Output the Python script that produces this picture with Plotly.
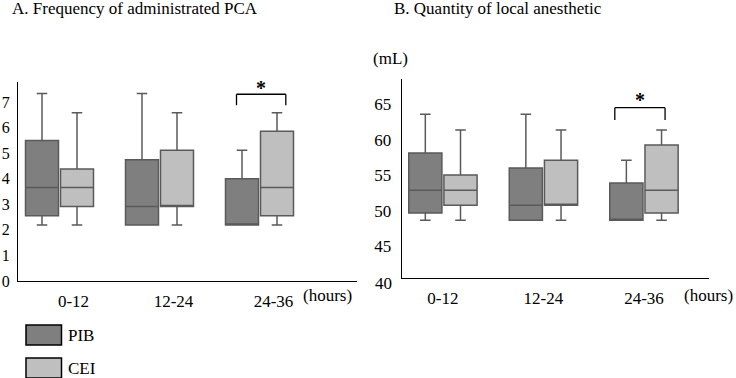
import plotly.graph_objects as go

W, H = 736, 378

categories = ["0-12", "12-24", "24-36"]
group_names = ["PIB", "CEI"]

# Panel A: frequency of administrated PCA
pca_pib_lower = [2.19, 2.19, 2.19]
pca_pib_q1 = [2.55, 2.19, 2.19]
pca_pib_median = [3.65, 2.91, 2.19]
pca_pib_q3 = [5.49, 4.74, 4.00]
pca_pib_upper = [7.33, 7.33, 5.11]

pca_cei_lower = [2.19, 2.19, 2.19]
pca_cei_q1 = [2.91, 2.91, 2.55]
pca_cei_median = [3.65, 2.91, 3.65]
pca_cei_q3 = [4.38, 5.11, 5.85]
pca_cei_upper = [6.58, 6.58, 6.58]

# Panel B: quantity of local anesthetic (mL)
la_pib_lower = [48.67, 48.67, 48.67]
la_pib_q1 = [49.69, 48.67, 48.67]
la_pib_median = [52.88, 50.77, 48.67]
la_pib_q3 = [58.12, 56.01, 53.90]
la_pib_upper = [63.55, 63.55, 57.09]

la_cei_lower = [48.67, 48.67, 48.67]
la_cei_q1 = [50.77, 50.77, 49.69]
la_cei_median = [52.88, 50.77, 52.88]
la_cei_q3 = [55.03, 57.09, 59.24]
la_cei_upper = [61.35, 61.35, 61.35]

pca_ticks = [0, 1, 2, 3, 4, 5, 6, 7]
la_ticks = [45, 50, 55, 60, 65]
la_bottom_label = 40

PIB_FILL = "#7f7f7f"
CEI_FILL = "#bfbfbf"
LINE = "#5a5a5a"
FONT = "Liberation Serif"

BOX_OFFSET = 0.175
BOX_WIDTH = 0.33
cat_index = list(range(len(categories)))


def px(x):
    return x / W


def py(y):
    return 1 - y / H


fig = go.Figure()


def add_box(name, fill, sign, q1, med, q3, lo, hi, xa, ya):
    fig.add_trace(go.Box(
        name=name, x=[i + sign * BOX_OFFSET for i in cat_index],
        q1=q1, median=med, q3=q3, lowerfence=lo, upperfence=hi, boxpoints=False,
        width=BOX_WIDTH, fillcolor=fill, line=dict(color=LINE, width=1.5),
        whiskerwidth=0.32, xaxis=xa, yaxis=ya, showlegend=False, hoverinfo="skip",
    ))


add_box("PIB", PIB_FILL, -1, pca_pib_q1, pca_pib_median, pca_pib_q3, pca_pib_lower, pca_pib_upper, "x", "y")
add_box("CEI", CEI_FILL, 1, pca_cei_q1, pca_cei_median, pca_cei_q3, pca_cei_lower, pca_cei_upper, "x", "y")
add_box("PIB", PIB_FILL, -1, la_pib_q1, la_pib_median, la_pib_q3, la_pib_lower, la_pib_upper, "x2", "y2")
add_box("CEI", CEI_FILL, 1, la_cei_q1, la_cei_median, la_cei_q3, la_cei_lower, la_cei_upper, "x2", "y2")

tickfont = dict(family=FONT, size=17, color="black")
axis_common = dict(showline=True, linecolor="black", linewidth=1.3, showgrid=False,
                   zeroline=False, ticks="", fixedrange=True, automargin=False)

fig.update_layout(
    width=W, height=H, margin=dict(l=0, r=0, t=0, b=0, autoexpand=False),
    paper_bgcolor="white", plot_bgcolor="white",
    boxmode="overlay",
    xaxis=dict(domain=[px(18), px(357)], anchor="y", range=[-0.415, 2.975],
               tickvals=cat_index, ticktext=categories, tickfont=tickfont,
               ticklabelshift=14, ticklabelstandoff=4, **axis_common),
    yaxis=dict(domain=[py(281), py(81.7)], anchor="x", range=[0, 7.79],
               tickvals=pca_ticks, ticklabelstandoff=4,
               tickfont=dict(family=FONT, size=16, color="black"), **axis_common),
    xaxis2=dict(domain=[px(401.7), px(709)], anchor="y2", range=[-0.41, 2.647],
                tickvals=cat_index, ticktext=categories, tickfont=tickfont,
                ticklabelstandoff=4, **axis_common),
    yaxis2=dict(domain=[py(278.3), py(79.3)], anchor="x2", range=[40.52, 68.47],
                tickvals=la_ticks, ticklabelstandoff=6, tickfont=tickfont, **axis_common),
)

txt = dict(family=FONT, size=17, color="black")
annotations = [
    dict(text="A. Frequency of administrated PCA", x=px(10), y=py(8), xref="paper", yref="paper",
         xanchor="left", yanchor="middle", showarrow=False, font=txt),
    dict(text="B. Quantity of local anesthetic", x=px(391.7), y=py(8), xref="paper", yref="paper",
         xanchor="left", yanchor="middle", showarrow=False, font=txt),
    dict(text="(mL)", x=px(371), y=py(58), xref="paper", yref="paper",
         xanchor="left", yanchor="middle", showarrow=False, font=txt),
    dict(text="(hours)", x=px(327.5), y=py(295), xref="paper", yref="paper",
         xanchor="center", yanchor="middle", showarrow=False, font=txt),
    dict(text="(hours)", x=px(708), y=py(295), xref="paper", yref="paper",
         xanchor="center", yanchor="middle", showarrow=False, font=txt),
    dict(text=str(la_bottom_label), x=px(394), y=py(283), xref="paper", yref="paper",
         xanchor="right", yanchor="middle", showarrow=False, font=txt),
    dict(text="<b>*</b>", x=2.01, y=7.55, xref="x", yref="y",
         xanchor="center", yanchor="middle", showarrow=False, font=dict(family=FONT, size=20, color="black")),
    dict(text="<b>*</b>", x=1.96, y=65.5, xref="x2", yref="y2",
         xanchor="center", yanchor="middle", showarrow=False, font=dict(family=FONT, size=20, color="black")),
]

# legend drawn manually
shapes = []
for i, (name, fill) in enumerate(zip(group_names, [PIB_FILL, CEI_FILL])):
    top = 325 + i * 33
    shapes.append(dict(type="rect", xref="paper", yref="paper", x0=px(26), x1=px(61.5),
                       y0=py(top + 20), y1=py(top), fillcolor=fill,
                       line=dict(color="black", width=1.5)))
    annotations.append(dict(text=name, x=px(66), y=py(top + 10), xref="paper", yref="paper",
                            xanchor="left", yanchor="middle", showarrow=False, font=txt))


# significance brackets
def bracket(xa, ya, x0, x1, ytop, ybot):
    line = dict(color="black", width=1.3)
    shapes.append(dict(type="line", xref=xa, yref=ya, x0=x0, x1=x1, y0=ytop, y1=ytop, line=line))
    shapes.append(dict(type="line", xref=xa, yref=ya, x0=x0, x1=x0, y0=ytop, y1=ybot, line=line))
    shapes.append(dict(type="line", xref=xa, yref=ya, x0=x1, x1=x1, y0=ytop, y1=ybot, line=line))


bracket("x", "y", 1.77, 2.263, 7.30, 6.87)
bracket("x2", "y2", 1.71, 2.21, 64.48, 62.75)

fig.update_layout(annotations=annotations, shapes=shapes)
# remove the browser's default 8px page margin so the figure fills the window exactly
fig.write_html("out.html", config={"displayModeBar": False},
               post_script="document.body.style.margin='0';document.body.style.overflow='hidden';")
